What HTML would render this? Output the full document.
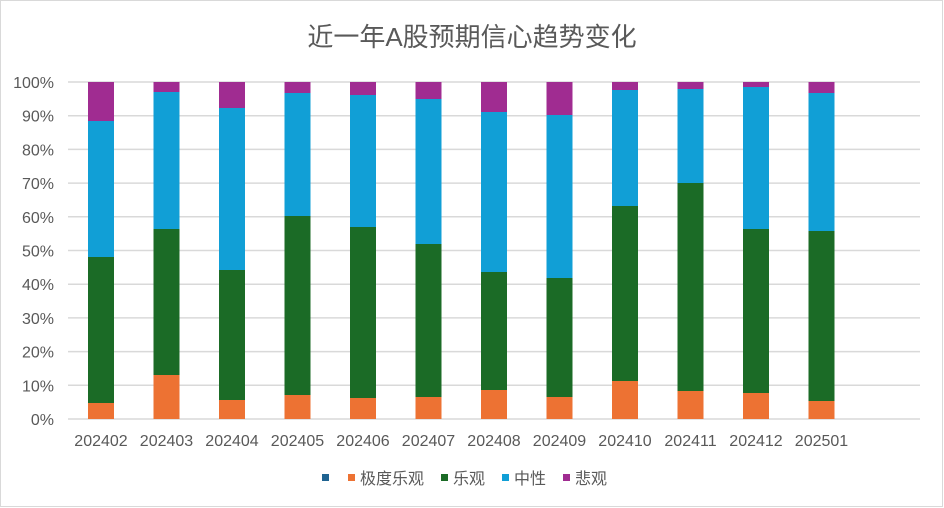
<!DOCTYPE html>
<html><head><meta charset="utf-8"><style>
body{margin:0;background:#fff}
svg{display:block}
text{font-family:"Liberation Sans","Noto Sans CJK SC",sans-serif;fill:#595959}
</style></head><body>
<svg width="944" height="508" xmlns="http://www.w3.org/2000/svg">
<rect x="0.5" y="0.5" width="942" height="506" fill="#fff" stroke="#d9d9d9"/>
<text x="472" y="46" font-size="26" text-anchor="middle">近一年A股预期信心趋势变化</text>
<g stroke="#d9d9d9" stroke-width="1.5">
<line x1="68" x2="920" y1="82" y2="82"/><line x1="68" x2="920" y1="115.7" y2="115.7"/>
<line x1="68" x2="920" y1="149.4" y2="149.4"/><line x1="68" x2="920" y1="183.1" y2="183.1"/>
<line x1="68" x2="920" y1="216.8" y2="216.8"/><line x1="68" x2="920" y1="250.5" y2="250.5"/>
<line x1="68" x2="920" y1="284.2" y2="284.2"/><line x1="68" x2="920" y1="317.9" y2="317.9"/>
<line x1="68" x2="920" y1="351.6" y2="351.6"/><line x1="68" x2="920" y1="385.3" y2="385.3"/>
<line x1="68" x2="920" y1="419" y2="419"/>
</g>
<g font-size="16" text-anchor="end">
<text x="54" y="88">100%</text><text x="54" y="121.7">90%</text><text x="54" y="155.4">80%</text>
<text x="54" y="189.1">70%</text><text x="54" y="222.8">60%</text><text x="54" y="256.5">50%</text>
<text x="54" y="290.2">40%</text><text x="54" y="323.9">30%</text><text x="54" y="357.6">20%</text>
<text x="54" y="391.3">10%</text><text x="54" y="425">0%</text>
</g>
<g fill="#a02c91">
<rect x="88" y="82" width="26" height="337"/><rect x="153.5" y="82" width="26" height="337"/>
<rect x="219" y="82" width="26" height="337"/><rect x="284.5" y="82" width="26" height="337"/>
<rect x="350" y="82" width="26" height="337"/><rect x="415.5" y="82" width="26" height="337"/>
<rect x="481" y="82" width="26" height="337"/><rect x="546.5" y="82" width="26" height="337"/>
<rect x="612" y="82" width="26" height="337"/><rect x="677.5" y="82" width="26" height="337"/>
<rect x="743" y="82" width="26" height="337"/><rect x="808.5" y="82" width="26" height="337"/>
</g>
<g fill="#119fd6">
<rect x="88" y="121" width="26" height="298"/><rect x="153.5" y="92" width="26" height="327"/>
<rect x="219" y="108" width="26" height="311"/><rect x="284.5" y="93" width="26" height="326"/>
<rect x="350" y="95" width="26" height="324"/><rect x="415.5" y="99" width="26" height="320"/>
<rect x="481" y="112" width="26" height="307"/><rect x="546.5" y="115" width="26" height="304"/>
<rect x="612" y="90" width="26" height="329"/><rect x="677.5" y="89" width="26" height="330"/>
<rect x="743" y="87" width="26" height="332"/><rect x="808.5" y="93" width="26" height="326"/>
</g>
<g fill="#1b6b26">
<rect x="88" y="257" width="26" height="162"/><rect x="153.5" y="229" width="26" height="190"/>
<rect x="219" y="270" width="26" height="149"/><rect x="284.5" y="216" width="26" height="203"/>
<rect x="350" y="227" width="26" height="192"/><rect x="415.5" y="244" width="26" height="175"/>
<rect x="481" y="272" width="26" height="147"/><rect x="546.5" y="278" width="26" height="141"/>
<rect x="612" y="206" width="26" height="213"/><rect x="677.5" y="183" width="26" height="236"/>
<rect x="743" y="229" width="26" height="190"/><rect x="808.5" y="231" width="26" height="188"/>
</g>
<g fill="#ed7233">
<rect x="88" y="403" width="26" height="16"/><rect x="153.5" y="375" width="26" height="44"/>
<rect x="219" y="400" width="26" height="19"/><rect x="284.5" y="395" width="26" height="24"/>
<rect x="350" y="398" width="26" height="21"/><rect x="415.5" y="397" width="26" height="22"/>
<rect x="481" y="390" width="26" height="29"/><rect x="546.5" y="397" width="26" height="22"/>
<rect x="612" y="381" width="26" height="38"/><rect x="677.5" y="391" width="26" height="28"/>
<rect x="743" y="393" width="26" height="26"/><rect x="808.5" y="401" width="26" height="18"/>
</g>
<g font-size="16" text-anchor="middle">
<text x="101" y="446">202402</text><text x="166.5" y="446">202403</text><text x="232" y="446">202404</text>
<text x="297.5" y="446">202405</text><text x="363" y="446">202406</text><text x="428.5" y="446">202407</text>
<text x="494" y="446">202408</text><text x="559.5" y="446">202409</text><text x="625" y="446">202410</text>
<text x="690.5" y="446">202411</text><text x="756" y="446">202412</text><text x="821.5" y="446">202501</text>
</g>
<g font-size="16">
<rect x="322" y="474" width="7" height="7" fill="#1f6391"/>
<rect x="348" y="474" width="7" height="7" fill="#ed7233"/><text x="360" y="484">极度乐观</text>
<rect x="441" y="474" width="7" height="7" fill="#1b6b26"/><text x="453" y="484">乐观</text>
<rect x="502" y="474" width="7" height="7" fill="#119fd6"/><text x="514" y="484">中性</text>
<rect x="563" y="474" width="7" height="7" fill="#a02c91"/><text x="575" y="484">悲观</text>
</g>
</svg>
</body></html>
